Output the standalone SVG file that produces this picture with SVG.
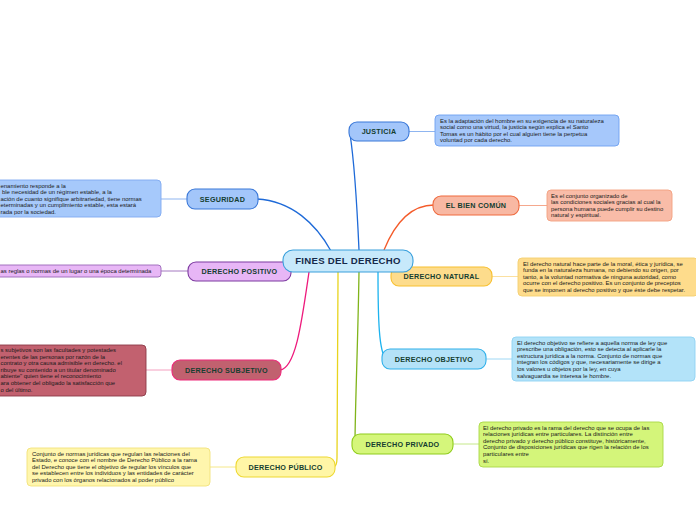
<svg xmlns="http://www.w3.org/2000/svg" width="696" height="520" viewBox="0 0 696 520">
<style>
.lbl{font-family:"Liberation Sans",Arial,sans-serif;font-weight:bold;font-size:7.2px;letter-spacing:0.25px;fill:#143e30;text-anchor:middle}
.ctr{font-family:"Liberation Sans",Arial,sans-serif;font-weight:bold;font-size:9.6px;letter-spacing:0.3px;fill:#16294a;text-anchor:middle}
.txt{font-family:"Liberation Sans",Arial,sans-serif;font-size:5.95px;fill:#1a1a1a}
.node{stroke-width:1.1}
.note{stroke-width:0.9}
.con{fill:none;stroke-width:1.3}
.thin{fill:none;stroke-width:1}
</style>
<rect width="696" height="520" fill="#ffffff"/>
<g id="connectors">
<path class="con" stroke="#1e6ad8" d="M359,250 C357,205 354,160 350,134"/>
<path class="con" stroke="#f45b2a" d="M384,250 C393,228 408,205 434,205"/>
<path class="con" stroke="#1cb3ef" d="M378,272 C378,320 379,352 386,359"/>
<path class="con" stroke="#80b41a" d="M359,272 C358,340 355,410 355,444"/>
<path class="con" stroke="#e8d41d" d="M338,272 C338,350 337,430 337,458 C337,465 335,467 333,467"/>
<path class="con" stroke="#ee1a7c" d="M309,272 C302,320 296,368 280,370"/>
<path class="con" stroke="#1e6ad8" d="M257,199 C292,201 316,224 331,251"/>
<path class="thin" stroke="#8fb5f0" d="M409,131.5 H436"/>
<path class="thin" stroke="#f5a88d" d="M519,205.5 H547"/>
<path class="thin" stroke="#fbe0a0" d="M492,276.5 H519"/>
<path class="thin" stroke="#9fd8f5" d="M486,359 H512"/>
<path class="thin" stroke="#c5e88a" d="M453,444 H479"/>
<path class="thin" stroke="#f5e88a" d="M210,467 H236"/>
<path class="thin" stroke="#f4a0c0" d="M146,370 H172"/>
<path class="thin" stroke="#a478c0" d="M161,271 H188"/>
<path class="thin" stroke="#8fb5f0" d="M161,199 H187"/>
</g>

<g id="justicia">
<rect class="node" x="349" y="122" width="60" height="19" rx="8" fill="#a3c6fa" stroke="#3a78d8"/>
<text class="lbl" x="379" y="134.2">JUSTICIA</text>
</g>
<g id="justicia-note">
<rect class="note" x="435" y="115" width="184" height="31" rx="4" fill="#a6c8fb" stroke="#6ea0f0"/>
<text class="txt" x="440" y="122.5"><tspan x="440">Es la adaptación del hombre en su exigencia de su naturaleza</tspan><tspan x="440" dy="6.6">social como una virtud, la justicia según explica el Santo</tspan><tspan x="440" dy="6.6">Tomas es un hábito por el cual alguien tiene la perpetua</tspan><tspan x="440" dy="6.6">voluntad por cada derecho.</tspan></text>
</g>

<g id="bien-comun">
<rect class="node" x="433" y="196" width="86" height="19" rx="8" fill="#f8b8a3" stroke="#ef6a3e"/>
<text class="lbl" x="476" y="208.2">EL BIEN COMÚN</text>
</g>
<g id="bien-comun-note">
<rect class="note" x="547" y="190" width="125" height="31" rx="4" fill="#f9bca8" stroke="#f3a080"/>
<text class="txt" x="551" y="197.5"><tspan x="551">Es el conjunto organizado de</tspan><tspan x="551" dy="6.6">las condiciones sociales gracias al cual la</tspan><tspan x="551" dy="6.6">persona humana puede cumplir su destino</tspan><tspan x="551" dy="6.6">natural y espiritual.</tspan></text>
</g>

<g id="natural">
<rect class="node" x="391" y="267" width="101" height="19" rx="8" fill="#fddc8c" stroke="#f8c030"/>
<text class="lbl" x="441.5" y="279.2">DERECHO NATURAL</text>
</g>
<g id="natural-note">
<rect class="note" x="518" y="258" width="180" height="38" rx="4" fill="#fedc8c" stroke="#f4cf70"/>
<text class="txt" x="523" y="265.5"><tspan x="523">El derecho natural hace parte de la moral, ética y jurídica, se</tspan><tspan x="523" dy="6.6">funda en la naturaleza humana, no debiendo su origen, por</tspan><tspan x="523" dy="6.6">tanto, a la voluntad normativa de ninguna autoridad, como</tspan><tspan x="523" dy="6.6">ocurre con el derecho positivo. Es un conjunto de preceptos</tspan><tspan x="523" dy="6.6">que se imponen al derecho positivo y que éste debe respetar.</tspan></text>
</g>

<g id="objetivo">
<rect class="node" x="382" y="349" width="104" height="20" rx="8" fill="#b4e2f8" stroke="#2fb0ea"/>
<text class="lbl" x="434" y="361.7">DERECHO OBJETIVO</text>
</g>
<g id="objetivo-note">
<rect class="note" x="512" y="337" width="183" height="44" rx="4" fill="#b3e3f9" stroke="#8fd3f3"/>
<text class="txt" x="517" y="344.5"><tspan x="517">El derecho objetivo se refiere a aquella norma de ley que</tspan><tspan x="517" dy="6.6">prescribe una obligación, esto se detecta al aplicarle la</tspan><tspan x="517" dy="6.6">estructura jurídica a la norma. Conjunto de normas que</tspan><tspan x="517" dy="6.6">integran los códigos y que, necesariamente se dirige a</tspan><tspan x="517" dy="6.6">los valores u objetos por la ley, en cuya</tspan><tspan x="517" dy="6.6">salvaguardia se interesa le hombre.</tspan></text>
</g>

<g id="privado">
<rect class="node" x="352" y="434" width="101" height="20" rx="8" fill="#d5f67b" stroke="#8fcc1c"/>
<text class="lbl" x="402.5" y="446.7">DERECHO PRIVADO</text>
</g>
<g id="privado-note">
<rect class="note" x="479" y="422" width="184" height="45" rx="4" fill="#d4f57a" stroke="#a9d845"/>
<text class="txt" x="483" y="429.5"><tspan x="483">El derecho privado es la rama del derecho que se ocupa de las</tspan><tspan x="483" dy="6.6">relaciones jurídicas entre particulares. La distinción entre</tspan><tspan x="483" dy="6.6">derecho privado y derecho público constituye, históricamente,</tspan><tspan x="483" dy="6.6">Conjunto de disposiciones jurídicas que rigen la relación de los</tspan><tspan x="483" dy="6.6">particulares entre</tspan><tspan x="483" dy="6.6">sí.</tspan></text>
</g>

<g id="publico">
<rect class="node" x="236" y="457" width="99" height="20" rx="8" fill="#fff6a6" stroke="#eed832"/>
<text class="lbl" x="285.5" y="469.7">DERECHO PÚBLICO</text>
</g>
<g id="publico-note">
<rect class="note" x="27" y="448" width="183" height="38" rx="4" fill="#fff6ad" stroke="#f2e27a"/>
<text class="txt" x="32" y="455.5"><tspan x="32">Conjunto de normas jurídicas que regulan las relaciones del</tspan><tspan x="32" dy="6.6">Estado, e conoce con el nombre de Derecho Público a la rama</tspan><tspan x="32" dy="6.6">del Derecho que tiene el objetivo de regular los vínculos que</tspan><tspan x="32" dy="6.6">se establecen entre los individuos y las entidades de carácter</tspan><tspan x="32" dy="6.6">privado con los órganos relacionados al poder público</tspan></text>
</g>

<g id="subjetivo">
<rect class="node" x="172" y="360" width="109" height="20" rx="8" fill="#c1616f" stroke="#ee2a7b"/>
<text class="lbl" x="226.5" y="372.7">DERECHO SUBJETIVO</text>
</g>
<g id="subjetivo-note">
<rect class="note" x="-10" y="345" width="156" height="51" rx="4" fill="#c2616f" stroke="#8c3b48"/>
<text class="txt" x="0.5" y="352"><tspan x="0.5">s subjetivos son las facultades y potestades</tspan><tspan x="0.5" dy="6.6">erentes de las personas por razón de la</tspan><tspan x="0.5" dy="6.6">contrato y otra causa admisible en derecho. el</tspan><tspan x="0.5" dy="6.6">ribuye su contenido a un titular denominado</tspan><tspan x="0.5" dy="6.6">abiente" quien tiene el reconocimiento</tspan><tspan x="0.5" dy="6.6">ara obtener del obligado la satisfacción que</tspan><tspan x="0.5" dy="6.6">o del último.</tspan></text>
</g>

<g id="positivo">
<rect class="node" x="188" y="262" width="103" height="19" rx="8" fill="#e7b6f6" stroke="#7d3aa0"/>
<text class="lbl" x="239.5" y="274.2">DERECHO POSITIVO</text>
</g>
<g id="positivo-note">
<rect class="note" x="-10" y="265" width="171" height="12" rx="3" fill="#e8b7f6" stroke="#9a66b8"/>
<text class="txt" x="0.5" y="273">as reglas o normas de un lugar o una época determinada</text>
</g>

<g id="seguridad">
<rect class="node" x="187" y="189" width="71" height="20" rx="8" fill="#a3c6fa" stroke="#3a78d8"/>
<text class="lbl" x="222.5" y="201.7">SEGURIDAD</text>
</g>
<g id="seguridad-note">
<rect class="note" x="-10" y="180" width="171" height="37" rx="4" fill="#a6c9fb" stroke="#7fa9f0"/>
<text class="txt" x="0.5" y="187.5"><tspan x="0.5">enamiento responde a la</tspan><tspan x="2" dy="6.6">ble necesidad de un régimen estable, a la</tspan><tspan x="0.5" dy="6.6">ación de cuanto signifique arbitrariedad, tiene normas</tspan><tspan x="0.5" dy="6.6">eterminadas y un cumplimiento estable, esta estará</tspan><tspan x="0.5" dy="6.6">rada por la sociedad.</tspan></text>
</g>

<g id="fines-del-derecho">
<rect class="node" x="283" y="250" width="130" height="22" rx="10" fill="#c7e9fb" stroke="#3aa0dc"/>
<text class="ctr" x="348" y="264.4">FINES DEL DERECHO</text>
</g>
</svg>
